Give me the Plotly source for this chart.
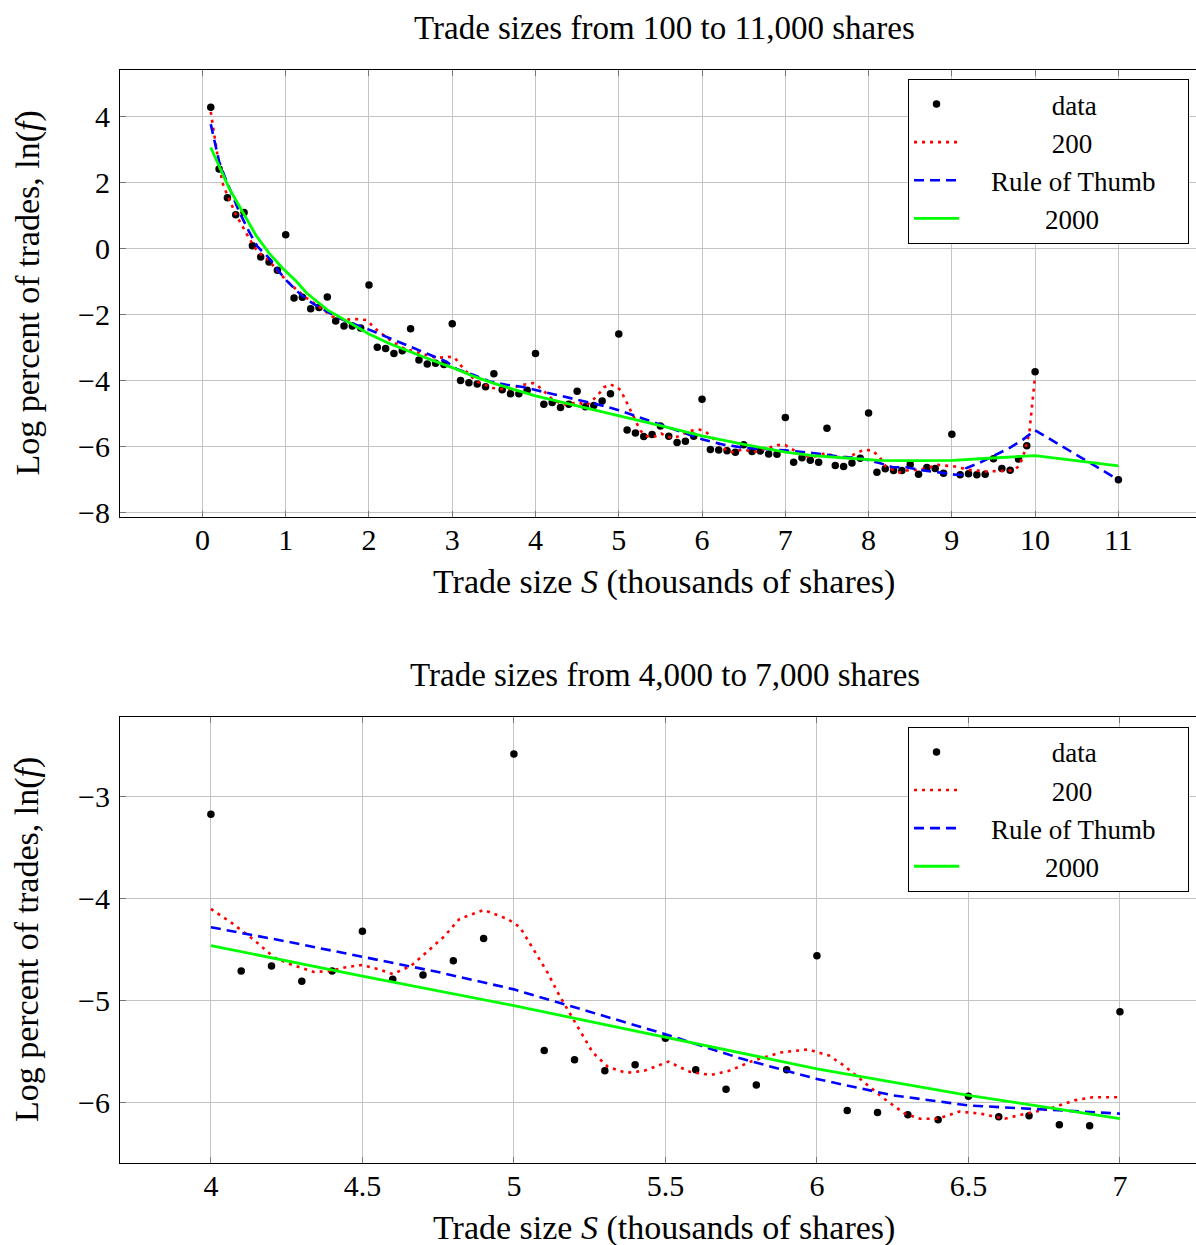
import plotly.graph_objects as go

# ---------------- data (trade size in thousands of shares) ----------------
trade_size = [round(0.1 * i, 1) for i in range(1, 101)] + [11.0]
log_pct = [
    4.29, 2.42, 1.55, 1.03, 1.10, 0.09, -0.25, -0.40, -0.65, 0.43,
    -1.49, -1.47, -1.82, -1.78, -1.46, -2.19, -2.34, -2.34, -2.40, -1.10,
    -2.98, -3.02, -3.17, -3.09, -2.42, -3.37, -3.49, -3.47, -3.51, -2.27,
    -3.99, -4.06, -4.10, -4.18, -3.79, -4.27, -4.39, -4.39, -4.29, -3.17,
    -4.71, -4.66, -4.81, -4.71, -4.32, -4.79, -4.75, -4.61, -4.39, -2.58,
    -5.49, -5.58, -5.69, -5.63, -5.37, -5.68, -5.87, -5.83, -5.68, -4.56,
    -6.08, -6.10, -6.12, -6.17, -5.94, -6.14, -6.13, -6.22, -6.23, -5.11,
    -6.47, -6.33, -6.41, -6.47, -5.44, -6.57, -6.60, -6.49, -6.35, -4.98,
    -6.77, -6.67, -6.72, -6.72, -6.54, -6.83, -6.63, -6.66, -6.80, -5.62,
    -6.85, -6.82, -6.85, -6.83, -6.36, -6.66, -6.71, -6.37, -5.97, -3.73,
    -7.00,
]

# bandwidth 200 smoother
bw200_x = [0.10, 0.14, 0.18, 0.24, 0.30, 0.40, 0.50, 0.56, 0.66, 0.80, 0.90, 1.00,
           1.13, 1.25, 1.37, 1.56, 1.70, 1.85, 1.97, 2.09, 2.25, 2.41, 2.61, 2.81,
           2.95, 3.03, 3.08, 3.15, 3.29, 3.49, 3.65, 3.85, 3.97,
           4.00, 4.07, 4.14, 4.21, 4.26, 4.34, 4.39, 4.45, 4.50, 4.55, 4.60, 4.66,
           4.71, 4.77, 4.82, 4.90, 4.98, 5.02, 5.065, 5.11, 5.15, 5.19, 5.22, 5.26,
           5.31, 5.37, 5.43, 5.51, 5.58, 5.65, 5.71, 5.79, 5.88, 5.97, 6.04, 6.09,
           6.155, 6.22, 6.29, 6.34, 6.40, 6.47, 6.54, 6.62, 6.69, 6.77, 6.85, 6.91,
           7.00, 7.11, 7.21, 7.33, 7.49, 7.61, 7.77, 7.87, 7.95, 8.05, 8.13, 8.21,
           8.37, 8.49, 8.57, 8.69, 8.83, 9.04, 9.21, 9.41, 9.61, 9.73, 9.80, 9.85,
           9.89, 9.93, 9.95, 9.97, 9.99, 10.0]
bw200_y = [4.15, 3.45, 2.85, 2.00, 1.62, 1.05, 0.58, 0.32, -0.08, -0.36, -0.66, -0.94,
           -1.24, -1.49, -1.70, -2.05, -2.15, -2.13, -2.16, -2.45, -2.76, -3.01, -3.16, -3.31,
           -3.27, -3.30, -3.47, -3.67, -4.02, -4.22, -4.27, -4.12, -4.07,
           -4.10, -4.24, -4.40, -4.58, -4.64, -4.72, -4.71, -4.67, -4.65, -4.69, -4.74, -4.66,
           -4.53, -4.37, -4.20, -4.11, -4.20, -4.28, -4.50, -4.72, -4.95, -5.15, -5.31, -5.51,
           -5.65, -5.71, -5.69, -5.60, -5.70, -5.73, -5.69, -5.59, -5.51, -5.48, -5.54, -5.64,
           -5.80, -5.96, -6.11, -6.16, -6.16, -6.09, -6.11, -6.16, -6.11, -6.06, -5.98, -5.95,
           -5.95, -6.11, -6.27, -6.31, -6.19, -6.31, -6.31, -6.17, -6.09, -6.12, -6.31, -6.60,
           -6.78, -6.70, -6.70, -6.65, -6.55, -6.60, -6.70, -6.75, -6.72, -6.72, -6.60, -6.34,
           -5.99, -5.59, -5.08, -4.58, -4.07, -3.85]

# rule-of-thumb bandwidth smoother
rot_x = [0.10, 0.14, 0.20, 0.26, 0.36, 0.44, 0.56, 0.66, 0.80, 0.92, 1.02, 1.16,
         1.32, 1.53, 1.73, 2.00, 2.25, 2.45, 2.73, 2.93, 3.05, 3.25, 3.45, 3.65,
         3.85, 4.00, 4.25, 4.50, 4.75, 5.00, 5.25, 5.50, 5.75, 6.00, 6.25, 6.50,
         6.75, 7.00, 7.33, 7.69, 7.89, 8.13, 8.29, 8.45, 8.61, 8.81, 8.91, 9.05,
         9.12, 9.17, 9.33, 9.49, 9.69, 9.85, 10.0, 11.0]
rot_y = [3.78, 3.35, 2.65, 2.24, 1.64, 1.13, 0.52, 0.07, -0.28, -0.69, -0.99, -1.34,
         -1.65, -1.95, -2.20, -2.45, -2.71, -2.91, -3.21, -3.42, -3.64, -3.82, -4.02, -4.12,
         -4.19, -4.28, -4.42, -4.57, -4.72, -4.89, -5.11, -5.33, -5.57, -5.77, -5.93, -6.03,
         -6.07, -6.11, -6.19, -6.31, -6.34, -6.49, -6.62, -6.62, -6.70, -6.78, -6.80, -6.85,
         -6.85, -6.65, -6.49, -6.29, -6.04, -5.79, -5.50, -7.00]

# bandwidth 2000 smoother
bw2000_x = [0.10, 0.20, 0.32, 0.48, 0.64, 0.80, 0.96, 1.13, 1.25, 1.50, 1.75, 2.00,
            2.25, 2.50, 2.75, 3.00, 3.25, 3.50, 3.75, 4.00, 4.50, 5.00, 5.50, 6.00,
            6.50, 7.00, 7.33, 7.73, 8.13, 8.53, 9.01, 9.49, 10.0, 11.0]
bw2000_y = [3.07, 2.49, 1.84, 1.13, 0.42, -0.13, -0.58, -0.99, -1.34, -1.85, -2.22, -2.58,
            -2.88, -3.13, -3.37, -3.60, -3.86, -4.08, -4.28, -4.46, -4.76, -5.05, -5.36, -5.67,
            -5.93, -6.16, -6.27, -6.34, -6.41, -6.42, -6.41, -6.34, -6.27, -6.58]

top_xticks = [0, 1, 2, 3, 4, 5, 6, 7, 8, 9, 10, 11]
top_yticks = [-8, -6, -4, -2, 0, 2, 4]
bot_xticks = [4, 4.5, 5, 5.5, 6, 6.5, 7]
bot_xticklabels = ["4", "4.5", "5", "5.5", "6", "6.5", "7"]
bot_yticks = [-6, -5, -4, -3]

titles = ["Trade sizes from 100 to 11,000 shares", "Trade sizes from 4,000 to 7,000 shares"]
series_names = ["data", "200", "Rule of Thumb", "2000"]
x_title = "Trade size <i>S</i> (thousands of shares)"
y_title = "Log percent of trades, ln(<i>f</i>)"

LO, HI = 4.0, 7.0


def window(xs, ys):
    pts = [(a, b) for a, b in zip(xs, ys) if LO - 1e-9 <= a <= HI + 1e-9]
    return [p[0] for p in pts], [p[1] for p in pts]


FONT = "Liberation Serif"
NB = "\u00a0"
lead = [13, 13, 4, 12]
trail = [0, 0, 4, 0]
legend_labels = [NB * a + n + NB * b for a, n, b in zip(lead, series_names, trail)]

fig = go.Figure()

panels = [
    ("x", "y", "legend", trade_size, log_pct, bw200_x, bw200_y, rot_x, rot_y, bw2000_x, bw2000_y),
]
bx, by = window(trade_size, log_pct)
b2x, b2y = window(bw200_x, bw200_y)
rx, ry = window(rot_x, rot_y)
gx, gy = window(bw2000_x, bw2000_y)
panels.append(("x2", "y2", "legend2", bx, by, b2x, b2y, rx, ry, gx, gy))

for xa, ya, lg, dx, dy, ax_, ay_, rx_, ry_, gx_, gy_ in panels:
    fig.add_trace(go.Scatter(x=dx, y=dy, mode="markers", name=legend_labels[0],
                             marker=dict(color="black", size=7.5), xaxis=xa, yaxis=ya, legend=lg))
    fig.add_trace(go.Scatter(x=ax_, y=ay_, mode="lines", name=legend_labels[1],
                             line=dict(color="#ff0000", width=2.6, dash="3px,5px"),
                             xaxis=xa, yaxis=ya, legend=lg))
    fig.add_trace(go.Scatter(x=rx_, y=ry_, mode="lines", name=legend_labels[2],
                             line=dict(color="#0000ff", width=2.6, dash="10px,6px"),
                             xaxis=xa, yaxis=ya, legend=lg))
    fig.add_trace(go.Scatter(x=gx_, y=gy_, mode="lines", name=legend_labels[3],
                             line=dict(color="#00ff00", width=2.8),
                             xaxis=xa, yaxis=ya, legend=lg))

axis_common = dict(showgrid=True, gridcolor="#c4c4c4", gridwidth=1, zeroline=False,
                   showline=True, linecolor="black", linewidth=1,
                   ticks="inside", ticklen=6, tickcolor="#777777",
                   tickfont=dict(family=FONT, size=30, color="black"))

legend_common = dict(bordercolor="black", borderwidth=1, bgcolor="white",
                     font=dict(family=FONT, size=27, color="black"),
                     xanchor="right", yanchor="top", itemwidth=45, tracegroupgap=0)

fig.update_layout(
    width=1196, height=1245,
    margin=dict(l=120, r=0, t=70, b=82),
    paper_bgcolor="white", plot_bgcolor="white",
    showlegend=True,
    xaxis=dict(domain=[0, 1], anchor="y", range=[-0.99, 11.932], tickvals=top_xticks,
               mirror="ticks", ticklabelstandoff=-4, **axis_common),
    yaxis=dict(domain=[0.5910, 1.0], anchor="x", range=[-8.13, 5.42], tickvals=top_yticks,
               ticklabelstandoff=3, **axis_common),
    xaxis2=dict(domain=[0, 1], anchor="y2", range=[3.7, 7.251], tickvals=bot_xticks,
                ticktext=bot_xticklabels, mirror="ticks", ticklabelstandoff=-4, **axis_common),
    yaxis2=dict(domain=[0, 0.4081], anchor="x2", range=[-6.595, -2.215], tickvals=bot_yticks,
                ticklabelstandoff=3, **axis_common),
    legend=dict(x=0.9935, y=0.9918, **legend_common),
    legend2=dict(x=0.9935, y=0.3990, **legend_common),
)

annots = [
    (titles[0], 0.5065, 1.0384, 0, 33),
    (titles[1], 0.5065, 0.4465, 0, 33),
    (x_title, 0.506, 0.5316, 0, 34),
    (x_title, 0.506, -0.0595, 0, 34),
    (y_title, -0.0864, 0.7955, -90, 34),
    (y_title, -0.0864, 0.2040, -90, 34),
]
for text, ax, ay, ang, sz in annots:
    fig.add_annotation(text=text, x=ax, y=ay, xref="paper", yref="paper",
                       xanchor="center", yanchor="middle", showarrow=False, textangle=ang,
                       font=dict(family=FONT, size=sz, color="black"))

fig.write_html("out.html", config={"displayModeBar": False},
               post_script="document.body.style.margin='0';document.body.style.overflow='hidden';")
